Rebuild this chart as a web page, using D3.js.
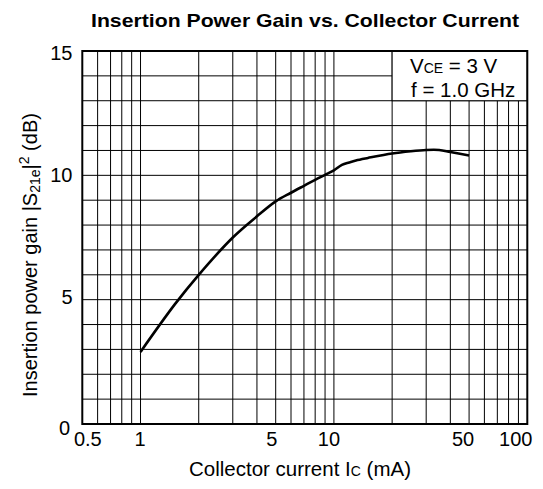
<!DOCTYPE html>
<html>
<head>
<meta charset="utf-8">
<script src="https://cdn.jsdelivr.net/npm/d3@7"></script>
<style>
  body { margin: 0; background: #fff; }
  svg text { font-family: "Liberation Sans", Arial, sans-serif; fill: #000; }
</style>
</head>
<body>
<svg id="chart" width="543" height="489"></svg>
<script>
// values
var current_ma = [1, 1.5, 2, 3, 4, 5, 6, 7, 8, 9, 10, 11, 12, 13, 15, 20, 25, 30, 35, 40, 50];
var gain_db = [2.9, 4.8, 6.0, 7.5, 8.35, 8.95, 9.3, 9.58, 9.82, 10.02, 10.2, 10.42, 10.52, 10.6, 10.7, 10.88, 10.97, 11.02, 11.02, 10.94, 10.8];
var xTicks = [0.5, 1, 5, 10, 50, 100];
var yTicks = [0, 5, 10, 15];
var xGrid = [0.6, 0.7, 0.8, 0.9, 1, 2, 3, 4, 5, 6, 7, 8, 9, 10, 20, 30, 40, 50, 60, 70, 80, 90];
var yGrid = [1, 2, 3, 4, 5, 6, 7, 8, 9, 10, 11, 12, 13, 14];

var svg = d3.select("#chart");
var x = d3.scaleLog().domain([0.5, 100]).range([82.3, 527.3]);
var y = d3.scaleLinear().domain([0, 15]).range([424, 51]);

svg.append("text")
    .attr("x", 305).attr("y", 27)
    .attr("text-anchor", "middle")
    .attr("textLength", 428).attr("lengthAdjust", "spacingAndGlyphs")
    .style("font-size", "19px").style("font-weight", "bold")
    .text("Insertion Power Gain vs. Collector Current");

var grid = svg.append("g").attr("stroke", "#000").attr("stroke-width", 1);
grid.selectAll("line.v").data(xGrid).enter().append("line")
    .attr("class", "v")
    .attr("x1", function (d) { return x(d); }).attr("x2", function (d) { return x(d); })
    .attr("y1", y(0)).attr("y2", y(15));
grid.selectAll("line.h").data(yGrid).enter().append("line")
    .attr("class", "h")
    .attr("x1", x(0.5)).attr("x2", x(100))
    .attr("y1", function (d) { return y(d); }).attr("y2", function (d) { return y(d); });

// condition box, hides the grid in the top right corner
svg.append("rect")
    .attr("x", x(20)).attr("y", y(15))
    .attr("width", x(100) - x(20)).attr("height", y(13) - y(15))
    .attr("fill", "#fff").attr("stroke", "#000").attr("stroke-width", 1);

var cond = svg.append("text").attr("x", 410).attr("y", 73).style("font-size", "20.5px");
cond.append("tspan").text("V");
cond.append("tspan").style("font-size", "14px").text("CE");
cond.append("tspan").text(" = 3 V");
svg.append("text").attr("x", 411).attr("y", 97).style("font-size", "20.5px").text("f = 1.0 GHz");

svg.append("rect")
    .attr("x", x(0.5)).attr("y", y(15))
    .attr("width", x(100) - x(0.5)).attr("height", y(0) - y(15))
    .attr("fill", "none").attr("stroke", "#000").attr("stroke-width", 2);

var line = d3.line()
    .x(function (d, i) { return x(current_ma[i]); })
    .y(function (d) { return y(d); })
    .curve(d3.curveCatmullRom.alpha(0.5));
svg.append("path")
    .datum(gain_db)
    .attr("d", line)
    .attr("fill", "none").attr("stroke", "#000").attr("stroke-width", 2.6);

// tick labels, shifted a little like the original
var xShift = {0.5: 5.5, 1: -0.5, 5: -4, 10: -5, 50: -6, 100: -11.5};
var yShift = {0: 11, 5: 4, 10: 6.5, 15: 9};
svg.selectAll("text.xt").data(xTicks).enter().append("text")
    .attr("class", "xt")
    .attr("x", function (d) { return x(d) + xShift[d]; })
    .attr("y", 446)
    .attr("text-anchor", "middle")
    .style("font-size", "20px")
    .text(function (d) { return d; });
svg.selectAll("text.yt").data(yTicks).enter().append("text")
    .attr("class", "yt")
    .attr("x", function (d) { return d === 0 ? 70 : 72.5; })
    .attr("y", function (d) { return y(d) + yShift[d]; })
    .attr("text-anchor", "end")
    .style("font-size", "20px")
    .text(function (d) { return d; });

var xl = svg.append("text")
    .attr("x", 300).attr("y", 476)
    .attr("text-anchor", "middle")
    .style("font-size", "20.5px");
xl.append("tspan").text("Collector current I");
xl.append("tspan").style("font-size", "14px").text("C");
xl.append("tspan").text(" (mA)");

var yl = svg.append("text")
    .attr("transform", "translate(37,397) rotate(-90)")
    .style("font-size", "20px");
yl.append("tspan").text("Insertion power gain |S");
yl.append("tspan").style("font-size", "14px").attr("dy", 3).text("21e");
yl.append("tspan").attr("dy", -3).text("|");
yl.append("tspan").style("font-size", "14px").attr("dy", -8).text("2");
yl.append("tspan").attr("dy", 8).text(" (dB)");
</script>
</body>
</html>
